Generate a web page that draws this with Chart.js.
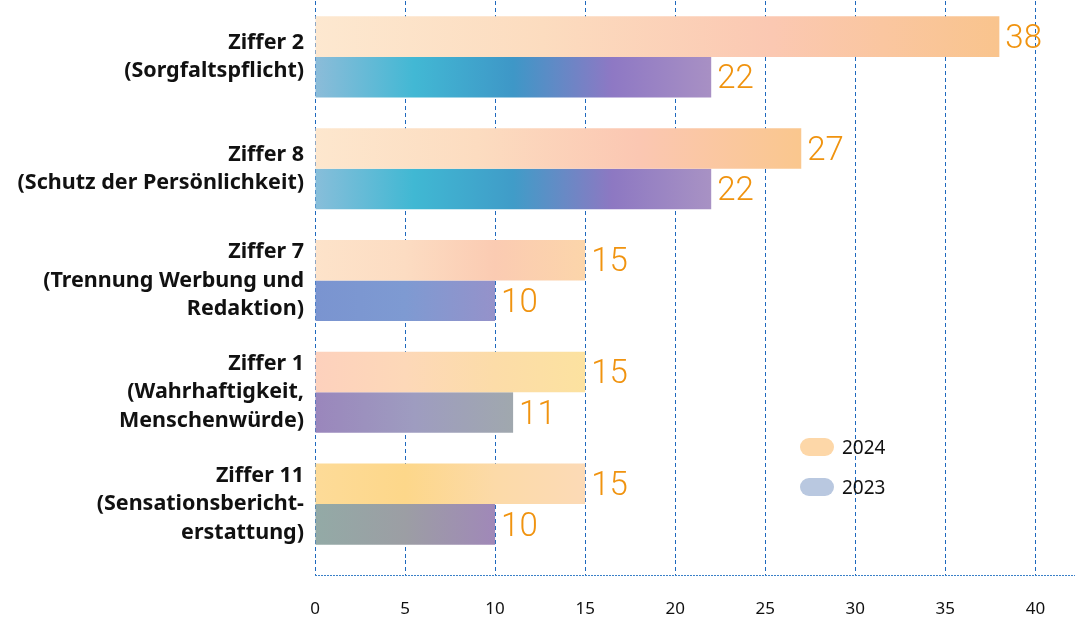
<!DOCTYPE html>
<html>
<head>
<meta charset="utf-8">
<script src="https://cdn.jsdelivr.net/npm/chart.js@4.4.1/dist/chart.umd.min.js"></script>
<style>
html,body{margin:0;padding:0;background:#fff;}
#wrap{position:relative;width:1081px;height:620px;}
#legend{position:absolute;left:800px;top:427px;font-family:"Noto Sans",sans-serif;font-size:19px;color:#111;}
#legend .item{display:flex;align-items:center;height:40px;}
#legend .sw{width:34px;height:18px;border-radius:9px;margin-right:8px;}
</style>
</head>
<body>
<div id="wrap">
<canvas id="c" width="1081" height="620"></canvas>
<div id="legend"></div>
</div>
<script>
// ---- data ----
const categories = [
  ["Ziffer 2", "(Sorgfaltspflicht)"],
  ["Ziffer 8", "(Schutz der Persönlichkeit)"],
  ["Ziffer 7", "(Trennung Werbung und", "Redaktion)"],
  ["Ziffer 1", "(Wahrhaftigkeit,", "Menschenwürde)"],
  ["Ziffer 11", "(Sensationsbericht-", "erstattung)"]
];
const seriesLabels = ["2024", "2023"];
const values2024 = [38, 27, 15, 15, 15];
const values2023 = [22, 22, 10, 11, 10];
const xTicks = [0, 5, 10, 15, 20, 25, 30, 35, 40];

// ---- styles ----
const legendColors = ["#FDD7A8", "#B9C8E0"];
const grad2024 = [
  ["#FDE8D0", "#FCDCBF", "#FBC8B2", "#F9C48D"],
  ["#FDE7CE", "#FCDCC0", "#FBC7B2", "#FAC78E"],
  ["#FDE3CA", "#FCDCC2", "#FBCBB2", "#FCD5AA"],
  ["#FDD1BD", "#FDD8B8", "#FCDCA8", "#FCE2A0"],
  ["#FDDB98", "#FDD78A", "#FCDAA8", "#FCDAB6"]
];
const grad2023 = [
  ["#8CBCD9", "#42B8D4", "#3E97C7", "#8E78C4", "#A890C4"],
  ["#88BEDA", "#40B8D3", "#409CC8", "#8D78C2", "#A892C4"],
  ["#7A94D0", "#7E9AD2", "#9592CA"],
  ["#9A86BC", "#9E9CC0", "#A0A8AE"],
  ["#93AAA6", "#9C9EA4", "#A088B8"]
];

function gradFill(stopsArr) {
  return function (ctx) {
    const chart = ctx.chart;
    if (!chart.chartArea || ctx.type !== 'data') return stopsArr[0][0];
    const xs = chart.scales.x;
    const x0 = xs.getPixelForValue(0);
    const x1 = xs.getPixelForValue(ctx.raw);
    const stops = stopsArr[ctx.dataIndex];
    const g = chart.ctx.createLinearGradient(x0, 0, Math.max(x1, x0 + 1), 0);
    stops.forEach((c, i) => g.addColorStop(i / (stops.length - 1), c));
    return g;
  };
}

const valueLabels = {
  id: 'valueLabels',
  afterDatasetsDraw(chart) {
    const ctx = chart.ctx;
    ctx.save();
    ctx.font = '300 33px Roboto, "Noto Sans", sans-serif';
    ctx.fillStyle = '#F0930F';
    ctx.textBaseline = 'middle';
    ctx.textAlign = 'left';
    chart.data.datasets.forEach((ds, di) => {
      const meta = chart.getDatasetMeta(di);
      meta.data.forEach((el, i) => {
        ctx.fillText(String(ds.data[i]), el.x + 6, el.y + 3);
      });
    });
    ctx.restore();
  }
};

const axisLine = {
  id: 'axisLine',
  afterDraw(chart) {
    const { ctx, chartArea } = chart;
    ctx.save();
    ctx.strokeStyle = '#3A80C8';
    ctx.lineWidth = 1;
    ctx.setLineDash([2, 1]);
    ctx.beginPath();
    const y = Math.round(chartArea.bottom + 15) + 0.5;
    ctx.moveTo(chartArea.left, y);
    ctx.lineTo(chartArea.right, y);
    ctx.stroke();
    ctx.restore();
  }
};

new Chart(document.getElementById('c'), {
  type: 'bar',
  data: {
    labels: categories,
    datasets: [
      { label: seriesLabels[0], data: values2024, backgroundColor: gradFill(grad2024),
        categoryPercentage: 0.725, barPercentage: 1.0 },
      { label: seriesLabels[1], data: values2023, backgroundColor: gradFill(grad2023),
        categoryPercentage: 0.725, barPercentage: 1.0 }
    ]
  },
  options: {
    indexAxis: 'y',
    responsive: false,
    animation: false,
    layout: { padding: { top: 1, right: 6, left: 0, bottom: 0 } },
    plugins: { legend: { display: false }, tooltip: { enabled: false } },
    scales: {
      x: {
        min: 0, max: 42.2,
        z: 1,
        afterBuildTicks(scale) { scale.ticks = xTicks.map(v => ({ value: v })); },
        afterFit(scale) { scale.height = 60; scale.paddingLeft = 0; scale.paddingRight = 0; },
        border: { display: false, dash: [4, 3] },
        grid: {
          color: 'rgb(30,105,190)', tickColor: 'rgb(30,105,190)', lineWidth: 1,
          tickBorderDash: [4, 3], tickLength: 15, drawTicks: true
        },
        ticks: {
          padding: 24, color: '#111',
          font: { family: '"Noto Sans", sans-serif', size: 17 }
        }
      },
      y: {
        afterFit(scale) { scale.width = 315; scale.paddingTop = 0; scale.paddingBottom = 0; },
        border: { display: false },
        grid: { display: false },
        ticks: {
          padding: 3, color: '#111',
          font: { family: '"Noto Sans", sans-serif', size: 21.5, weight: 'bold', lineHeight: 1.33 }
        }
      }
    }
  },
  plugins: [valueLabels, axisLine]
});

const lg = document.getElementById('legend');
seriesLabels.forEach((s, i) => {
  const d = document.createElement('div');
  d.className = 'item';
  d.innerHTML = '<span class="sw" style="background:' + legendColors[i] + '"></span><span>' + s + '</span>';
  lg.appendChild(d);
});
</script>
</body>
</html>
